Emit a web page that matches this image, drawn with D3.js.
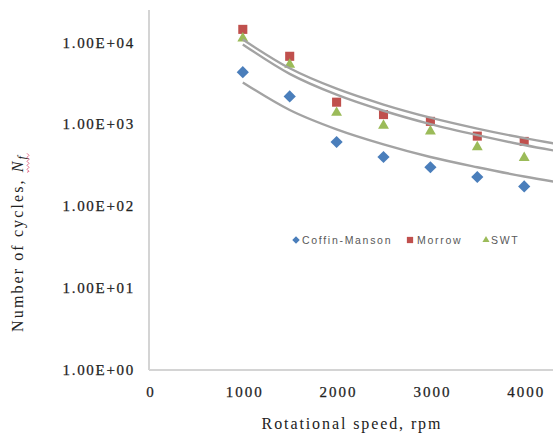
<!DOCTYPE html>
<html>
<head>
<meta charset="utf-8">
<script src="https://cdn.jsdelivr.net/npm/d3@7/dist/d3.min.js"></script>
<style>
  html, body { margin: 0; padding: 0; background: #fff; }
  svg { display: block; }
</style>
</head>
<body>
<svg id="chart" width="553" height="441"></svg>
<script>
// Fatigue life vs rotational speed for three life models
const speeds = [1000, 1500, 2000, 2500, 3000, 3500, 4000];
const coffinManson = [4350, 2200, 610, 400, 300, 228, 175];
const morrow = [14500, 6800, 1870, 1320, 1090, 720, 620];
const swt = [11300, 5400, 1390, 970, 825, 530, 390];

// Fitted curves (grey lines)
const trendSpeeds = [1000, 1500, 2000, 2500, 3000, 3500, 4000, 4500];
const trendUpper = [10900, 4850, 2730, 1750, 1210, 890, 680, 540];
const trendMiddle = [9500, 4150, 2310, 1470, 1010, 740, 560, 440];
const trendLower = [3260, 1500, 870, 570, 400, 300, 231, 185];

const xTicks = [0, 1000, 2000, 3000, 4000];
const yTicks = [1, 10, 100, 1000, 10000];
const yTickLabels = ["1.00E+00", "1.00E+01", "1.00E+02", "1.00E+03", "1.00E+04"];

const seriesNames = ["Coffin-Manson", "Morrow", "SWT"];
const seriesValues = [coffinManson, morrow, swt];
const seriesColors = ["#4a7ebb", "#c0504d", "#9bbb59"];
const seriesSymbols = [d3.symbolDiamond2, d3.symbolSquare2, d3.symbolTriangle2];

const W = 553, H = 441;
const plot = { left: 149, top: 10, right: 553, bottom: 370 };

const x = d3.scaleLinear().domain([0, 4500]).range([plot.left, plot.left + 4.5 * 93.8]);
const y = d3.scaleLog().domain([1, 25000]).range([plot.bottom, plot.top]);

const svg = d3.select("#chart");

svg.append("defs").append("clipPath").attr("id", "plotClip")
  .append("rect")
  .attr("x", plot.left).attr("y", plot.top - 8)
  .attr("width", plot.right - plot.left).attr("height", plot.bottom - plot.top + 8);

const serif = "'Liberation Serif', 'Times New Roman', serif";
const sans = "'Liberation Sans', Arial, sans-serif";

// Axis lines
svg.append("line")
  .attr("x1", plot.left).attr("x2", plot.left)
  .attr("y1", plot.top).attr("y2", plot.bottom)
  .attr("stroke", "#d4d4d4").attr("stroke-width", 2);
svg.append("line")
  .attr("x1", plot.left).attr("x2", plot.right)
  .attr("y1", plot.bottom).attr("y2", plot.bottom)
  .attr("stroke", "#d4d4d4").attr("stroke-width", 2);

// Y tick labels
svg.append("g").selectAll("text")
  .data(yTicks)
  .join("text")
  .attr("x", 135)
  .attr("y", d => y(d) + 5)
  .attr("text-anchor", "end")
  .attr("font-family", serif)
  .attr("font-size", 15)
  .attr("letter-spacing", 1.7)
  .attr("fill", "#222")
  .attr("stroke", "#222").attr("stroke-width", 0.25)
  .text((d, i) => yTickLabels[i]);

// X tick labels
svg.append("g").selectAll("text")
  .data(xTicks)
  .join("text")
  .attr("x", d => x(d) + 2)
  .attr("y", 397)
  .attr("text-anchor", "middle")
  .attr("font-family", serif)
  .attr("font-size", 15)
  .attr("letter-spacing", 2)
  .attr("fill", "#222")
  .attr("stroke", "#222").attr("stroke-width", 0.25)
  .text(d => d);

// Axis titles
svg.append("text")
  .attr("x", 352).attr("y", 429)
  .attr("text-anchor", "middle")
  .attr("font-family", serif)
  .attr("font-size", 16)
  .attr("letter-spacing", 1.9)
  .attr("fill", "#222")
  .text("Rotational speed, rpm");

const yTitle = svg.append("text")
  .attr("transform", "translate(23,243) rotate(-90)")
  .attr("text-anchor", "middle")
  .attr("font-family", serif)
  .attr("font-size", 16)
  .attr("letter-spacing", 2.1)
  .attr("fill", "#222");
yTitle.append("tspan").text("Number of cycles, ");
yTitle.append("tspan").attr("font-style", "italic").text("N");
yTitle.append("tspan").attr("font-style", "italic").attr("font-size", 12).attr("dy", 3).text("f");

// Red wavy underline under "Nf"
{
  const node = yTitle.node();
  const total = node.getComputedTextLength();
  const start = node.getSubStringLength(0, 18);
  const sx = -total / 2 + start;
  const ex = total / 2;
  let d = `M${sx},4`;
  for (let t = sx; t < ex; t += 2) d += `L${t + 1},${(t - sx) % 4 === 0 ? 6 : 4}`;
  svg.append("path")
    .attr("transform", "translate(23,243) rotate(-90)")
    .attr("d", d)
    .attr("fill", "none")
    .attr("stroke", "#e06080")
    .attr("stroke-width", 0.9);
}

const plotG = svg.append("g").attr("clip-path", "url(#plotClip)");

// Data markers
seriesValues.forEach((vals, si) => {
  const sym = d3.symbol().type(seriesSymbols[si]).size([95, 105, 85][si]);
  plotG.append("g").selectAll("path")
    .data(vals.map((v, i) => ({ s: speeds[i], v })))
    .join("path")
    .attr("transform", d => `translate(${x(d.s)},${y(d.v)})`)
    .attr("d", sym)
    .attr("fill", seriesColors[si]);
});

// Grey fitted curves
const line = d3.line()
  .x((d, i) => x(trendSpeeds[i]))
  .y(d => y(d))
  .curve(d3.curveMonotoneX);

[trendUpper, trendMiddle, trendLower].forEach(vals => {
  plotG.append("path")
    .attr("d", line(vals))
    .attr("fill", "none")
    .attr("stroke", "#a3a3a3")
    .attr("stroke-width", 2.4);
});

// Legend
const legendItems = [
  { sx: 296, tx: 302 },
  { sx: 410, tx: 417 },
  { sx: 486, tx: 491 }
];
const lg = svg.append("g");
seriesNames.forEach((name, si) => {
  const pos = legendItems[si];
  lg.append("path")
    .attr("transform", `translate(${pos.sx},240)`)
    .attr("d", d3.symbol().type(seriesSymbols[si]).size(si === 1 ? 50 : 36))
    .attr("fill", seriesColors[si]);
  lg.append("text")
    .attr("x", pos.tx).attr("y", 244)
    .attr("font-family", sans)
    .attr("font-size", 10.5)
    .attr("letter-spacing", 1.7)
    .attr("fill", "#595959")
    .text(name);
});
</script>
</body>
</html>
